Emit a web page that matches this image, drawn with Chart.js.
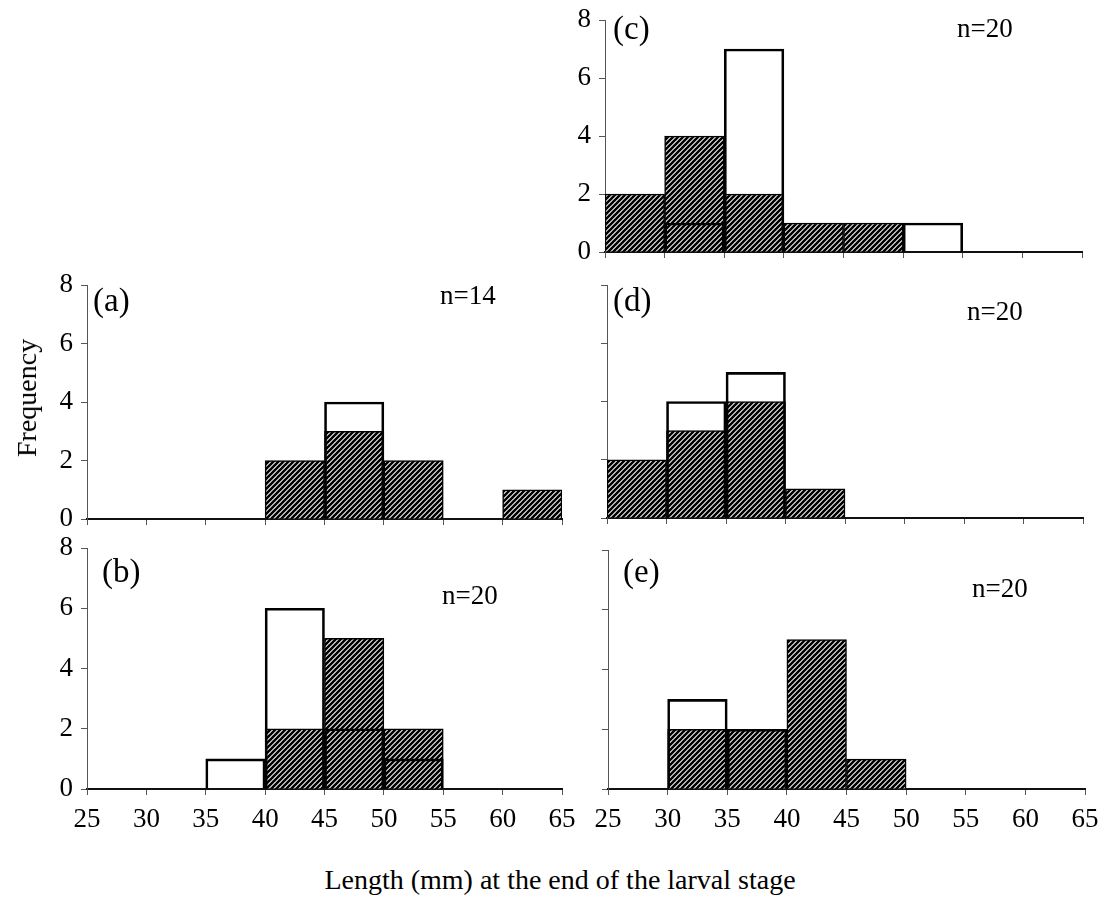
<!DOCTYPE html>
<html>
<head>
<meta charset="utf-8">
<script src="https://cdn.jsdelivr.net/npm/chart.js@4"></script>
<style>
	body { margin: 0; background: #fff; }
	#wrap { position: relative; width: 1120px; height: 918px; font-family: "Liberation Serif", "Times New Roman", serif; }
	#wrap canvas { position: absolute; }
	.title { position: absolute; font-size: 28px; color: #000; white-space: nowrap; }
</style>
</head>
<body>
<div id="wrap">
	<canvas id="pa" width="580" height="261" style="left:0px;top:270px"></canvas>
	<canvas id="pb" width="580" height="299" style="left:0px;top:535px"></canvas>
	<canvas id="pc" width="580" height="264" style="left:520px;top:0px"></canvas>
	<canvas id="pd" width="580" height="260" style="left:520px;top:270px"></canvas>
	<canvas id="pe" width="580" height="299" style="left:520px;top:535px"></canvas>
	<div class="title" style="left:27px;top:398px;transform:translate(-50%,-50%) rotate(-90deg)">Frequency</div>
	<div class="title" style="left:560px;top:880px;transform:translate(-50%,-50%)">Length (mm) at the end of the larval stage</div>
</div>
<script>
// bin centres, 5 mm bins from 25 to 65
var binCentres = [27.5, 32.5, 37.5, 42.5, 47.5, 52.5, 57.5, 62.5];
var xTicks = [25, 30, 35, 40, 45, 50, 55, 60, 65];

// open (outlined) bars
var openA = [0, 0, 0, 0, 4, 0, 0, 0];
var openB = [0, 0, 1, 6, 2, 1, 0, 0];
var openC = [0, 1, 7, 0, 0, 1, 0, 0];
var openD = [0, 4, 5, 0, 0, 0, 0, 0];
var openE = [0, 3, 2, 0, 0, 0, 0, 0];

// hatched bars
var hatchA = [0, 0, 0, 2, 3, 2, 0, 1];
var hatchB = [0, 0, 0, 2, 5, 2, 0, 0];
var hatchC = [2, 4, 2, 1, 1, 0, 0, 0];
var hatchD = [2, 3, 4, 1, 0, 0, 0, 0];
var hatchE = [0, 2, 2, 5, 1, 0, 0, 0];

var panelNames = ["(a)", "(b)", "(c)", "(d)", "(e)"];
var sampleSizes = ["n=14", "n=20", "n=20", "n=20", "n=20"];

const FONT = "Liberation Serif";

// diagonal hatch fill
function makeHatch() {
	var c = document.createElement("canvas");
	var s = 5;
	c.width = s;
	c.height = s;
	var g = c.getContext("2d");
	g.fillStyle = "#fff";
	g.fillRect(0, 0, s, s);
	g.strokeStyle = "#000";
	g.lineWidth = 2.6;
	g.beginPath();
	g.moveTo(0, s);
	g.lineTo(s, 0);
	g.moveTo(-1, 1);
	g.lineTo(1, -1);
	g.moveTo(s - 1, s + 1);
	g.lineTo(s + 1, s - 1);
	g.stroke();
	return g.createPattern(c, "repeat");
}
var hatch = makeHatch();

function toPoints(values) {
	return values.map((v, i) => ({ x: binCentres[i], y: v }));
}

// per panel: canvas id, data, axis box and where the texts sit
function drawPanel(id, open, hatched, idx, box) {
	var labelsPlugin = {
		id: "panelText",
		afterDraw: function (chart) {
			var ctx = chart.ctx;
			var area = chart.chartArea;
			ctx.save();
			ctx.fillStyle = "#000";
			ctx.textBaseline = "middle";
			ctx.font = "33px '" + FONT + "'";
			ctx.fillText(panelNames[idx], area.left + box.nameX, area.top + box.nameY);
			ctx.font = "27px '" + FONT + "'";
			ctx.fillText(sampleSizes[idx], area.left + box.nX, area.top + box.nY);
			ctx.restore();
		},
	};

	new Chart(document.getElementById(id), {
		type: "bar",
		data: {
			datasets: [
				{
					data: toPoints(open),
					backgroundColor: "rgba(0,0,0,0)",
					borderColor: "#000",
					borderWidth: 2,
					grouped: false,
					barPercentage: 1,
					categoryPercentage: 1,
				},
				{
					data: toPoints(hatched),
					backgroundColor: hatch,
					borderColor: "#000",
					borderWidth: 1.5,
					grouped: false,
					barPercentage: 1,
					categoryPercentage: 1,
				},
			],
		},
		options: {
			responsive: false,
			animation: false,
			layout: {
				padding: { top: box.top, right: box.right, left: 0, bottom: 0 },
			},
			plugins: {
				legend: { display: false },
				tooltip: { enabled: false },
			},
			scales: {
				x: {
					type: "linear",
					min: 25,
					max: 65,
					offset: false,
					afterBuildTicks: function (scale) {
						scale.ticks = xTicks.map((v) => ({ value: v }));
					},
					afterFit: function (scale) {
						scale.height = box.xh;
						// keep the plot edges fixed, labels may overhang
						scale.paddingLeft = 0;
						scale.paddingRight = 0;
					},
					ticks: {
						display: box.xLabels,
						color: "#000",
						padding: 9,
						maxRotation: 0,
						autoSkip: false,
						font: { family: FONT, size: 27 },
					},
					grid: {
						offset: false,
						drawOnChartArea: false,
						drawTicks: true,
						tickLength: 6,
						color: "#555",
					},
					border: { display: true, color: "#111", width: 2 },
				},
				y: {
					min: 0,
					max: 8,
					afterFit: function (scale) {
						scale.width = box.yw;
						scale.paddingTop = 0;
						scale.paddingBottom = 0;
					},
					ticks: {
						stepSize: 2,
						display: box.yLabels,
						color: "#000",
						padding: 8,
						font: { family: FONT, size: 27 },
					},
					grid: {
						drawOnChartArea: false,
						drawTicks: true,
						tickLength: 6,
						color: "#555",
					},
					border: { display: true, color: "#555", width: 1 },
				},
			},
		},
		plugins: [labelsPlugin],
	});
}

drawPanel("pa", openA, hatchA, 0, { top: 15, right: 18, yw: 87, xh: 12, xLabels: false, yLabels: true, nameX: 6, nameY: 17, nX: 353, nY: 12 });
drawPanel("pb", openB, hatchB, 1, { top: 13, right: 18, yw: 87, xh: 45, xLabels: true, yLabels: true, nameX: 15, nameY: 25, nX: 355, nY: 49 });
drawPanel("pc", openC, hatchC, 2, { top: 20, right: 18, yw: 85, xh: 12, xLabels: false, yLabels: true, nameX: 8, nameY: 10, nX: 352, nY: 10 });
drawPanel("pd", openD, hatchD, 3, { top: 15, right: 17, yw: 87, xh: 12, xLabels: false, yLabels: false, nameX: 6, nameY: 17, nX: 360, nY: 28 });
drawPanel("pe", openE, hatchE, 4, { top: 15, right: 15, yw: 88, xh: 45, xLabels: true, yLabels: false, nameX: 15, nameY: 23, nX: 364, nY: 40 });
</script>
</body>
</html>
